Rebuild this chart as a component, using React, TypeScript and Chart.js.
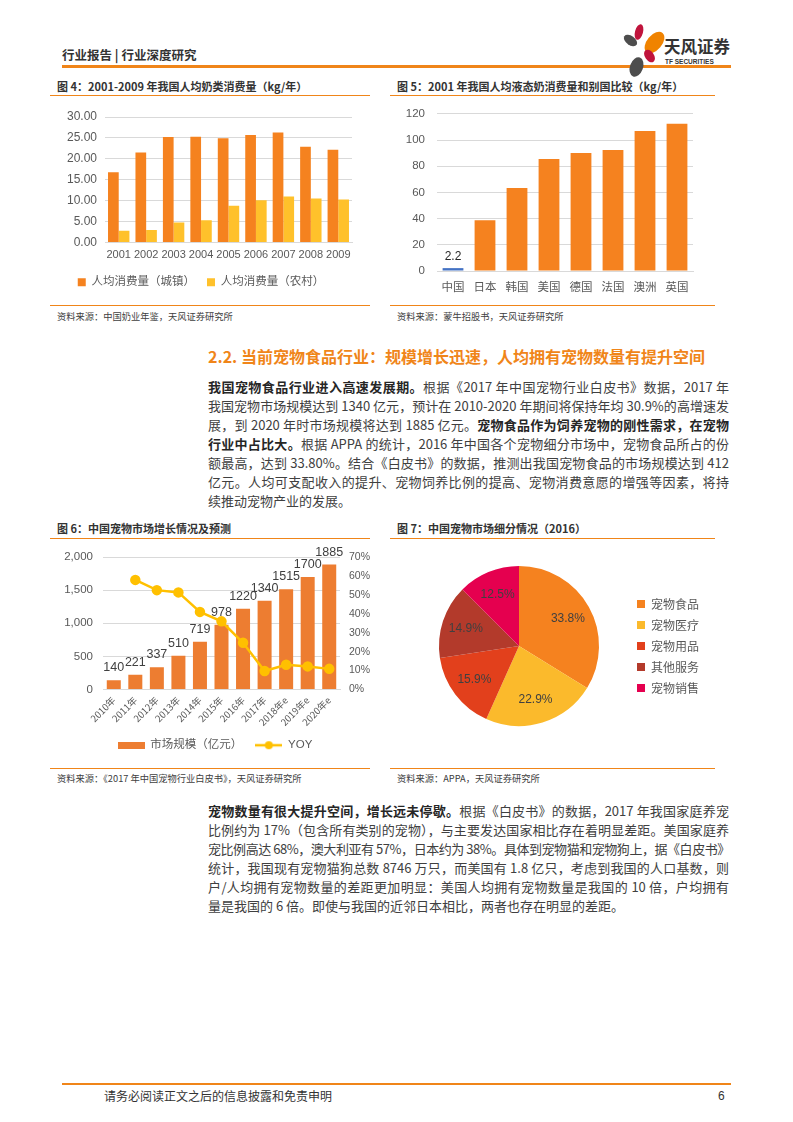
import React, { useEffect, useRef } from "react";
import { Chart, registerables } from "chart.js";

Chart.register(...registerables);

// ---------- data ----------
const milkYears = ["2001", "2002", "2003", "2004", "2005", "2006", "2007", "2008", "2009"];
const urbanMilk = [16.8, 21.5, 25.2, 25.3, 24.9, 25.7, 26.3, 22.9, 22.2];
const ruralMilk = [2.8, 3.0, 4.8, 5.3, 8.8, 10.1, 11.0, 10.5, 10.3];

const countries = ["中国", "日本", "韩国", "美国", "德国", "法国", "澳洲", "英国"];
const liquidMilk = [2.2, 38.8, 63.4, 85.5, 90.1, 92.4, 106.9, 112.4];

const petYears = ["2010年", "2011年", "2012年", "2013年", "2014年", "2015年", "2016年", "2017年", "2018年e", "2019年e", "2020年e"];
const petMarket = [140, 221, 337, 510, 719, 978, 1220, 1340, 1515, 1700, 1885];
const petYoy = [null, 57.9, 52.5, 51.3, 41.0, 36.0, 24.7, 9.8, 13.1, 12.2, 10.9];

const segments = ["宠物食品", "宠物医疗", "宠物用品", "其他服务", "宠物销售"];
const segmentShares = [33.8, 22.9, 15.9, 14.9, 12.5];

// ---------- style ----------
const SANS = '"Liberation Sans", "Noto Sans CJK SC", sans-serif';
const CJK = '"Noto Sans CJK SC", "Liberation Sans", sans-serif';
const ORANGE = "#F5821F";
const YELLOW = "#FFC12B";
const BAR6 = "#ED7D31";
const LINE6 = "#FFC000";
const GRID = "#D9D9D9";
const TICK = "#595959";
const PIE_COLORS = ["#F5821F", "#FBBA2C", "#E2401C", "#B33A2B", "#E5004F"];
const BRAND = "#F08519";

Chart.defaults.font.family = SANS;

const barLabels = {
  id: "barLabels",
  afterDatasetsDraw(chart: any, _a: any, opts: any) {
    if (!opts || !opts.enabled) return;
    const { ctx } = chart;
    const meta = chart.getDatasetMeta(opts.datasetIndex || 0);
    const data = chart.data.datasets[opts.datasetIndex || 0].data;
    ctx.save();
    ctx.font = `${opts.size || 12}px ${SANS}`;
    ctx.fillStyle = opts.color || "#404040";
    ctx.textAlign = "center";
    ctx.textBaseline = "bottom";
    meta.data.forEach((el: any, i: number) => {
      if (opts.only && !opts.only.includes(i)) return;
      ctx.fillText(String(data[i]), el.x, el.y - (opts.offset || 4));
    });
    ctx.restore();
  },
};

const pieLabels = {
  id: "pieLabels",
  afterDatasetsDraw(chart: any, _a: any, opts: any) {
    if (!opts || !opts.enabled) return;
    const { ctx } = chart;
    const meta = chart.getDatasetMeta(0);
    const data = chart.data.datasets[0].data;
    ctx.save();
    ctx.font = `12px ${SANS}`;
    ctx.fillStyle = "#404040";
    ctx.textAlign = "center";
    ctx.textBaseline = "middle";
    meta.data.forEach((arc: any, i: number) => {
      const mid = (arc.startAngle + arc.endAngle) / 2;
      const r = arc.outerRadius * 0.7;
      ctx.fillText(Number(data[i]).toFixed(1) + "%", arc.x + Math.cos(mid) * r, arc.y + Math.sin(mid) * r);
    });
    ctx.restore();
  },
};

function rectIcon(w: number, h: number, color: string) {
  const c = document.createElement("canvas");
  c.width = w;
  c.height = h;
  const g = c.getContext("2d")!;
  g.fillStyle = color;
  g.fillRect(0, 0, w, h);
  return c;
}
function lineIcon(w: number, h: number, color: string) {
  const c = document.createElement("canvas");
  c.width = w;
  c.height = h;
  const g = c.getContext("2d")!;
  g.strokeStyle = color;
  g.lineWidth = 2.5;
  g.beginPath();
  g.moveTo(0, h / 2);
  g.lineTo(w, h / 2);
  g.stroke();
  g.fillStyle = color;
  g.beginPath();
  g.arc(w / 2, h / 2, 4, 0, Math.PI * 2);
  g.fill();
  return c;
}

function ChartBox({ left, top, width, height, make }: any) {
  const ref = useRef<HTMLCanvasElement>(null);
  useEffect(() => {
    const chart = new Chart(ref.current as HTMLCanvasElement, make());
    return () => chart.destroy();
  }, []);
  return (
    <div style={{ position: "absolute", left, top, width, height }}>
      <canvas ref={ref} width={width} height={height} style={{ display: "block" }} />
    </div>
  );
}

// ---------- chart configs ----------
function makeMilk(): any {
  return {
    type: "bar",
    data: {
      labels: milkYears,
      datasets: [
        { label: "人均消费量（城镇）", data: urbanMilk, backgroundColor: ORANGE, categoryPercentage: 0.78, barPercentage: 1 },
        { label: "人均消费量（农村）", data: ruralMilk, backgroundColor: YELLOW, categoryPercentage: 0.78, barPercentage: 1 },
      ],
    },
    options: {
      responsive: false,
      animation: false,
      layout: { padding: { left: 0, right: 13, top: 17, bottom: 0 } },
      plugins: {
        legend: {
          position: "bottom",
          labels: { boxWidth: 8, boxHeight: 8, padding: 12, color: TICK, font: { size: 11.5, family: SANS } },
        },
        tooltip: { enabled: false },
      },
      scales: {
        x: {
          grid: { display: false, drawTicks: false },
          border: { color: GRID },
          ticks: { color: TICK, font: { size: 11 }, padding: 6, maxRotation: 0, autoSkip: false },
          afterFit: (s: any) => { s.height = 22; },
        },
        y: {
          min: 0,
          max: 30,
          grid: { color: GRID, drawTicks: false },
          border: { display: false },
          ticks: { stepSize: 5, color: TICK, font: { size: 12 }, padding: 8, callback: (v: any) => Number(v).toFixed(2) },
          afterFit: (s: any) => { s.width = 55; },
        },
      },
    },
  };
}

function makeCountries(): any {
  return {
    type: "bar",
    data: {
      labels: countries,
      datasets: [
        {
          label: "人均液态奶消费量",
          data: liquidMilk,
          backgroundColor: countries.map((_, i) => (i === 0 ? "#4472C4" : ORANGE)),
          categoryPercentage: 1,
          barPercentage: 0.65,
        },
      ],
    },
    plugins: [barLabels],
    options: {
      responsive: false,
      animation: false,
      layout: { padding: { left: 0, right: 27, top: 18, bottom: 0 } },
      plugins: {
        legend: { display: false },
        tooltip: { enabled: false },
        barLabels: { enabled: true, only: [0], size: 12, color: "#262626", offset: 5 },
      },
      scales: {
        x: {
          grid: { display: false, drawTicks: false },
          border: { color: GRID },
          ticks: { color: TICK, font: { size: 11.5, family: CJK }, padding: 9 },
          afterFit: (s: any) => { s.height = 29; },
        },
        y: {
          min: 0,
          max: 120,
          grid: { color: GRID, drawTicks: false },
          border: { display: false },
          ticks: { stepSize: 20, color: TICK, font: { size: 11.5 }, padding: 12 },
          afterFit: (s: any) => { s.width = 47; },
        },
      },
    },
  };
}

function makePet(): any {
  const barIcon = rectIcon(27, 7, BAR6);
  const yoyIcon = lineIcon(27, 10, LINE6);
  return {
    type: "bar",
    data: {
      labels: petYears,
      datasets: [
        {
          type: "bar",
          label: "市场规模（亿元）",
          data: petMarket,
          backgroundColor: BAR6,
          categoryPercentage: 1,
          barPercentage: 0.65,
          yAxisID: "y",
          order: 2,
        },
        {
          type: "line",
          label: "YOY",
          data: petYoy,
          borderColor: LINE6,
          backgroundColor: LINE6,
          borderWidth: 2.5,
          pointRadius: 4,
          pointBackgroundColor: LINE6,
          pointBorderColor: LINE6,
          yAxisID: "y1",
          order: 1,
          spanGaps: false,
        },
      ],
    },
    plugins: [barLabels],
    options: {
      responsive: false,
      animation: false,
      layout: { padding: { left: 0, right: 0, top: 17, bottom: 0 } },
      plugins: {
        legend: {
          position: "bottom",
          labels: {
            usePointStyle: true,
            pointStyleWidth: 27,
            padding: 13,
            color: TICK,
            font: { size: 11.5, family: SANS },
            generateLabels: (chart: any) =>
              chart.data.datasets.map((d: any, i: number) => ({
                text: d.label,
                fillStyle: i === 0 ? BAR6 : LINE6,
                strokeStyle: i === 0 ? BAR6 : LINE6,
                lineWidth: 0,
                pointStyle: i === 0 ? barIcon : yoyIcon,
                datasetIndex: i,
                hidden: false,
                fontColor: TICK,
              })),
          },
        },
        tooltip: { enabled: false },
        barLabels: { enabled: true, datasetIndex: 0, size: 12.5, color: "#404040", offset: 6 },
      },
      scales: {
        x: {
          grid: { display: false, drawTicks: false },
          border: { color: GRID },
          ticks: { color: TICK, font: { size: 9.5, family: CJK }, padding: 5, minRotation: 45, maxRotation: 45, autoSkip: false },
          afterFit: (s: any) => { s.height = 37; },
        },
        y: {
          position: "left",
          min: 0,
          max: 2000,
          grid: { color: GRID, drawTicks: false },
          border: { display: false },
          ticks: {
            stepSize: 500,
            color: TICK,
            font: { size: 11.5 },
            padding: 10,
            callback: (v: any) => Number(v).toLocaleString("en-US"),
          },
          afterFit: (s: any) => { s.width = 53; },
        },
        y1: {
          position: "right",
          min: 0,
          max: 70,
          grid: { display: false, drawTicks: false },
          border: { display: false },
          ticks: { stepSize: 10, color: TICK, font: { size: 10.5 }, padding: 9, callback: (v: any) => v + "%" },
          afterFit: (s: any) => { s.width = 40; },
        },
      },
    },
  };
}

function makePie(): any {
  return {
    type: "pie",
    data: {
      labels: segments,
      datasets: [{ data: segmentShares, backgroundColor: PIE_COLORS, borderWidth: 0, radius: 80 }],
    },
    plugins: [pieLabels],
    options: {
      responsive: false,
      animation: false,
      layout: { padding: { left: 20, right: 11, top: 0, bottom: 0 } },
      plugins: {
        legend: {
          position: "right",
          labels: { boxWidth: 8, boxHeight: 8, padding: 9, color: TICK, font: { size: 12, family: CJK } },
        },
        tooltip: { enabled: false },
        pieLabels: { enabled: true },
      },
    },
  };
}

// ---------- page pieces ----------
const abs = (s: any) => ({ position: "absolute" as const, ...s });

function Text({ x, y, size, bold, color, children, family }: any) {
  return (
    <div
      style={abs({
        left: x,
        top: y - 10,
        height: 20,
        lineHeight: "20px",
        fontSize: size,
        fontWeight: bold ? 700 : 400,
        color: color || "#333",
        fontFamily: family || CJK,
        whiteSpace: "nowrap",
      })}
    >
      {children}
    </div>
  );
}

function HLine({ x1, x2, y, h, color }: any) {
  return <div style={abs({ left: x1, top: y, width: x2 - x1, height: h || 1, background: color || BRAND })} />;
}

function PLine({ y, last, tight, children }: any) {
  return (
    <div
      style={abs({
        left: 208,
        top: y - 10,
        width: 521,
        height: 20,
        lineHeight: "20px",
        fontSize: 13,
        color: "#404040",
        fontFamily: CJK,
        textAlign: "justify",
        textAlignLast: last ? "left" : "justify",
        letterSpacing: tight ? "-0.45px" : undefined,
      })}
    >
      {children}
    </div>
  );
}

const B = ({ children }: any) => <b style={{ color: "#262626", fontWeight: 700 }}>{children}</b>;

function Petal({ cx, cy, w, h, rot, color }: any) {
  return (
    <div
      style={abs({
        left: cx - w / 2,
        top: cy - h / 2,
        width: w,
        height: h,
        borderRadius: "50%",
        background: color,
        transform: `rotate(${rot}deg)`,
      })}
    />
  );
}

function Logo() {
  return (
    <>
      <Petal cx={639} cy={32} w={8} h={16} rot={15} color="#C0143C" />
      <Petal cx={654} cy={42} w={15} h={25} rot={40} color="#F08300" />
      <Petal cx={630} cy={40} w={15} h={9} rot={35} color="#4D4D4D" />
      <Petal cx={649} cy={56} w={9} h={14} rot={-35} color="#C0143C" />
      <Petal cx={636} cy={67} w={13} h={20} rot={20} color="#4D4D4D" />
      <Text x={664} y={46} size={16.5} bold color="#333">天风证券</Text>
      <div style={abs({ left: 665, top: 58, fontSize: 6.5, fontWeight: 700, color: "#333", fontFamily: SANS, lineHeight: "8px", whiteSpace: "nowrap" })}>
        TF SECURITIES
      </div>
    </>
  );
}

export default function App() {
  return (
    <div style={abs({ left: 0, top: 0, width: 793, height: 1122, background: "#fff", overflow: "hidden" })}>
      {/* header */}
      <Text x={62} y={55} size={12.5} bold color="#333">行业报告 | 行业深度研究</Text>
      <HLine x1={62} x2={731} y={65} h={2.5} />
      <Logo />

      {/* figure 4 */}
      <Text x={57} y={86} size={11} bold>图 4：2001-2009 年我国人均奶类消费量（kg/年）</Text>
      <HLine x1={50} x2={370} y={95} />
      <ChartBox left={50} top={100} width={315} height={198} make={makeMilk} />
      <HLine x1={50} x2={370} y={305} />
      <Text x={57} y={316} size={9.25} color="#404040">资料来源：中国奶业年鉴，天风证券研究所</Text>

      {/* figure 5 */}
      <Text x={397} y={86} size={11} bold>图 5：2001 年我国人均液态奶消费量和别国比较（kg/年）</Text>
      <HLine x1={390} x2={715} y={95} />
      <ChartBox left={390} top={95} width={330} height={205} make={makeCountries} />
      <HLine x1={390} x2={715} y={305} />
      <Text x={397} y={316} size={9.25} color="#404040">资料来源：蒙牛招股书，天风证券研究所</Text>

      {/* section */}
      <Text x={208} y={356} size={16} bold color={BRAND}>2.2. 当前宠物食品行业：规模增长迅速，人均拥有宠物数量有提升空间</Text>
      <PLine y={387}><B>我国宠物食品行业进入高速发展期。</B>根据《2017 年中国宠物行业白皮书》数据，2017 年</PLine>
      <PLine y={406}>我国宠物市场规模达到 1340 亿元，预计在 2010-2020 年期间将保持年均 30.9%的高增速发</PLine>
      <PLine y={425}>展，到 2020 年时市场规模将达到 1885 亿元。<B>宠物食品作为饲养宠物的刚性需求，在宠物</B></PLine>
      <PLine y={444}><B>行业中占比大。</B>根据 APPA 的统计，2016 年中国各个宠物细分市场中，宠物食品所占的份</PLine>
      <PLine y={463}>额最高，达到 33.80%。结合《白皮书》的数据，推测出我国宠物食品的市场规模达到 412</PLine>
      <PLine y={482}>亿元。人均可支配收入的提升、宠物饲养比例的提高、宠物消费意愿的增强等因素，将持</PLine>
      <PLine y={501} last>续推动宠物产业的发展。</PLine>

      {/* figure 6 */}
      <Text x={57} y={528} size={11} bold>图 6：中国宠物市场增长情况及预测</Text>
      <HLine x1={50} x2={370} y={538} />
      <ChartBox left={50} top={540} width={330} height={221} make={makePet} />
      <HLine x1={50} x2={370} y={768} />
      <Text x={57} y={778} size={9.25} color="#404040">资料来源：《2017 年中国宠物行业白皮书》，天风证券研究所</Text>

      {/* figure 7 */}
      <Text x={397} y={528} size={11} bold>图 7：中国宠物市场细分情况（2016）</Text>
      <HLine x1={390} x2={715} y={538} />
      <ChartBox left={390} top={546} width={330} height={200} make={makePie} />
      <HLine x1={390} x2={715} y={768} />
      <Text x={397} y={778} size={9.25} color="#404040">资料来源：APPA，天风证券研究所</Text>

      {/* paragraph 2 */}
      <PLine y={811}><B>宠物数量有很大提升空间，增长远未停歇。</B>根据《白皮书》的数据，2017 年我国家庭养宠</PLine>
      <PLine y={830}>比例约为 17%（包含所有类别的宠物），与主要发达国家相比存在着明显差距。美国家庭养</PLine>
      <PLine y={849} tight>宠比例高达 68%，澳大利亚有 57%，日本约为 38%。具体到宠物猫和宠物狗上，据《白皮书》</PLine>
      <PLine y={868}>统计，我国现有宠物猫狗总数 8746 万只，而美国有 1.8 亿只，考虑到我国的人口基数，则</PLine>
      <PLine y={887}>户/人均拥有宠物数量的差距更加明显：美国人均拥有宠物数量是我国的 10 倍，户均拥有</PLine>
      <PLine y={906} last>量是我国的 6 倍。即使与我国的近邻日本相比，两者也存在明显的差距。</PLine>

      {/* footer */}
      <HLine x1={62} x2={731} y={1083} h={2} />
      <Text x={104} y={1096} size={12} color="#333">请务必阅读正文之后的信息披露和免责申明</Text>
      <Text x={718} y={1096} size={12} color="#333" family={SANS}>6</Text>
    </div>
  );
}
